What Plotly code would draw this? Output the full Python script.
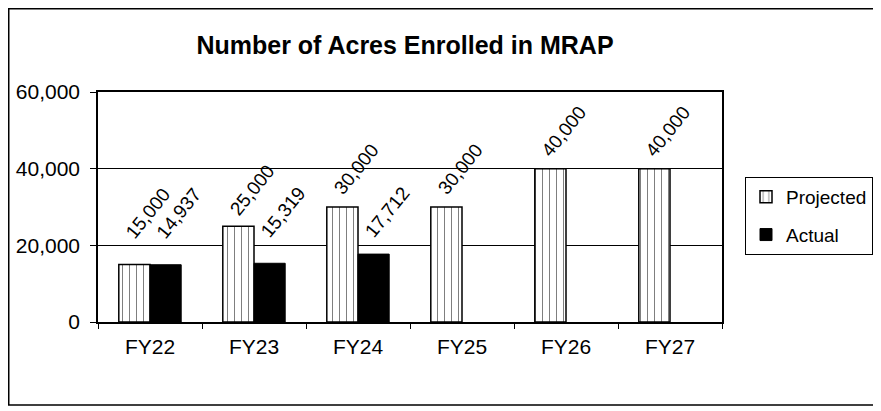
import plotly.graph_objects as go

years = ["FY22", "FY23", "FY24", "FY25", "FY26", "FY27"]
projected = [15000, 25000, 30000, 30000, 40000, 40000]
actual = [14937, 15319, 17712, None, None, None]

# extra lift (px) of the value labels, as placed in the original chart
lift_projected = [17, 2, 4, 4, 3, 3]
lift_actual = [17, 17, 8, 0, 0, 0]

# the page body adds an 8px offset, so the figure is laid out 8px up/left
W, H = 873, 403
L, R, T, B = 90, 159, 84, 89
pw, ph = W - L - R, H - T - B


def px_x(x):
    return (x - L) / pw


def px_y(y):
    return (H - B - y) / ph


fig = go.Figure()

fig.add_trace(go.Bar(
    x=years, y=projected, name="Projected", legendgroup="p",
    marker=dict(color="white", line=dict(color="black", width=1.5),
                pattern=dict(shape="|", fgcolor="black", bgcolor="white", size=7, solidity=0.15)),
))
fig.add_trace(go.Bar(
    x=years, y=actual, name="Actual", legendgroup="a",
    marker=dict(color="black", line=dict(color="black", width=1)),
))

# rotated value labels sitting on top of each bar
half = 15.5
for vals, lifts, off in [(projected, lift_projected, -half), (actual, lift_actual, half)]:
    for yr, v, lift in zip(years, vals, lifts):
        if v is None:
            continue
        fig.add_annotation(x=yr, y=v, text=f"{v:,}", showarrow=False,
                           textangle=-51, xanchor="left", yanchor="bottom",
                           xshift=off - 16, yshift=2 + lift,
                           font=dict(family="Arial", size=19, color="black"))

# outer frame round the whole chart
fig.add_shape(type="rect", xref="paper", yref="paper",
              x0=px_x(0.75), x1=px_x(869), y0=px_y(397), y1=px_y(0.75),
              line=dict(color="black", width=1.5), layer="below")

fig.update_layout(
    width=W, height=H,
    margin=dict(l=L, r=R, t=T, b=B, autoexpand=False),
    paper_bgcolor="white", plot_bgcolor="white",
    font=dict(family="Arial", size=21, color="black"),
    title=dict(text="<b>Number of Acres Enrolled in MRAP</b>", xref="container", x=397 / W,
               xanchor="center", y=1 - 37 / H, yanchor="middle", font=dict(size=25)),
    barmode="group", bargap=0.40, bargroupgap=0,
    showlegend=True,
    legend=dict(x=px_x(737), y=px_y(169), xanchor="left", yanchor="top",
                bordercolor="black", borderwidth=1, bgcolor="white",
                font=dict(size=19), itemwidth=30, tracegroupgap=10),
)
fig.update_xaxes(showline=True, linecolor="black", linewidth=1.5, mirror=True,
                 ticks="outside", tickson="boundaries", ticklen=5, tickcolor="black",
                 ticklabelstandoff=5, showgrid=False)
fig.update_yaxes(range=[0, 60000], dtick=20000, tickformat=",", showline=True,
                 linecolor="black", linewidth=1.5, mirror=True,
                 ticks="outside", ticklen=6, tickcolor="black", ticklabelstandoff=6,
                 showgrid=True, gridcolor="black", gridwidth=1.2, zeroline=False)

fig.write_html("out.html")
